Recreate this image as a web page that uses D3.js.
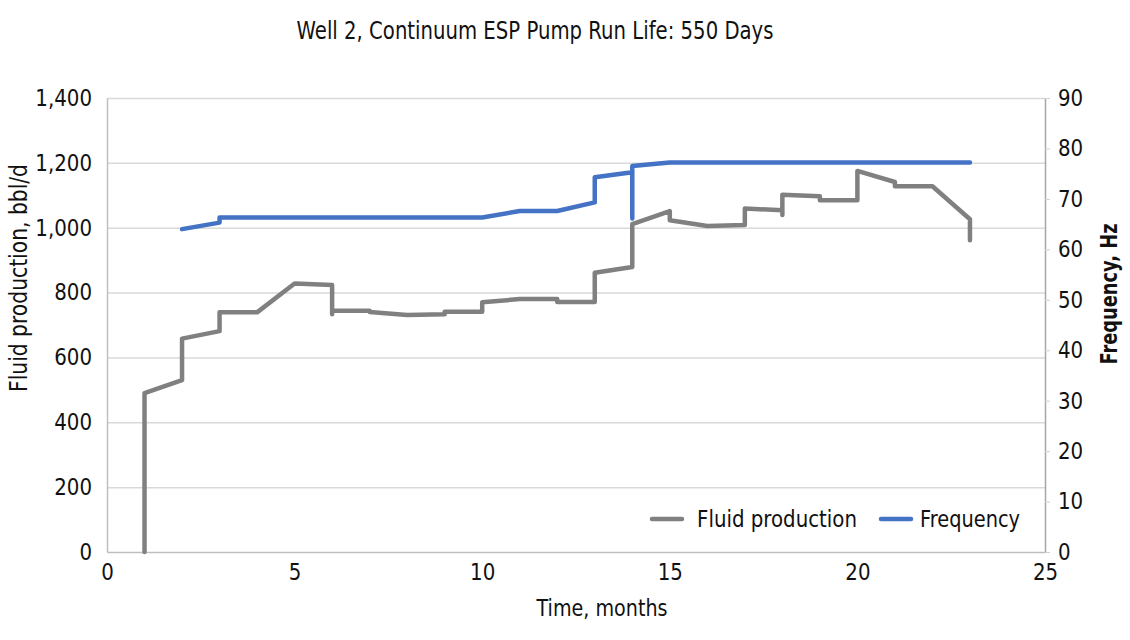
<!DOCTYPE html>
<html>
<head>
<meta charset="utf-8">
<script src="https://cdn.jsdelivr.net/npm/d3@7/dist/d3.min.js"></script>
<style>
  html, body { margin: 0; padding: 0; background: #fff; }
  svg { display: block; }
  text { font-family: "DejaVu Sans", "Roboto", sans-serif; fill: #111; }
</style>
</head>
<body>
<div id="chart"></div>
<script>
  // Dados (meses, bbl/d e Hz)
  const fluidMonths = [1, 1, 2, 2, 3, 3, 4, 5, 6, 6, 6, 7, 7, 8, 9, 9, 10, 10, 11, 12, 12, 13, 13, 14, 14, 15, 15, 16, 17, 17, 18, 18, 18, 19, 19, 20, 20, 21, 21, 22, 23, 23];
  const fluidValues = [0, 490, 530, 658, 681, 739, 739, 828, 823, 733, 744, 744, 740, 731, 733, 741, 741, 770, 780, 780, 771, 771, 861, 879, 1011, 1051, 1023, 1005, 1008, 1059, 1054, 1039, 1102, 1097, 1085, 1085, 1175, 1141, 1128, 1128, 1026, 961];
  const freqMonths = [2, 3, 3, 10, 11, 12, 13, 13, 14, 14, 14, 15, 23];
  const freqValues = [64, 65.3, 66.3, 66.3, 67.6, 67.6, 69.3, 74.3, 75.3, 66.1, 76.5, 77.2, 77.2];
  const xTicks = [0, 5, 10, 15, 20, 25];
  const leftTicks = [0, 200, 400, 600, 800, 1000, 1200, 1400];
  const rightTicks = [0, 10, 20, 30, 40, 50, 60, 70, 80, 90];

  const W = 1130, H = 640;
  const margin = { top: 98, right: 85, bottom: 88, left: 107 };
  const innerW = W - margin.left - margin.right;
  const innerH = H - margin.top - margin.bottom;

  const svg = d3.select('#chart').append('svg').attr('width', W).attr('height', H);
  const g = svg.append('g').attr('transform', `translate(${margin.left},${margin.top})`);

  const x = d3.scaleLinear().domain([0, 25]).range([0, innerW]);
  const yL = d3.scaleLinear().domain([0, 1400]).range([innerH, 0]);
  const yR = d3.scaleLinear().domain([0, 90]).range([innerH, 0]);

  const axColor = '#bfbfbf';
  const gridColor = '#d9d9d9';
  const fs = '23px';

  // fonte condensada "fake": estreita o texto já renderizado
  function condense(sel, k) {
    sel.each(function () {
      const w = this.getComputedTextLength();
      d3.select(this).attr('textLength', w * k).attr('lengthAdjust', 'spacingAndGlyphs');
    });
  }

  // grade horizontal
  g.append('g')
    .call(d3.axisLeft(yL).tickValues(leftTicks.slice(1)).tickSize(-innerW).tickFormat(''))
    .call(sel => {
      sel.select('.domain').remove();
      sel.selectAll('line').attr('stroke', gridColor).attr('stroke-width', 1.5);
    });

  // eixo X
  g.append('g')
    .attr('transform', `translate(0,${innerH})`)
    .call(d3.axisBottom(x).tickValues(xTicks).tickSize(0).tickPadding(12))
    .call(sel => {
      sel.select('.domain').attr('stroke', axColor).attr('stroke-width', 1.5);
      sel.selectAll('text').style('font-size', fs).attr('fill', '#111').call(condense, 0.86);
    });

  // eixo esquerdo
  g.append('g')
    .call(d3.axisLeft(yL).tickValues(leftTicks).tickSize(0).tickPadding(15).tickFormat(d3.format(',')))
    .call(sel => {
      sel.select('.domain').attr('stroke', axColor).attr('stroke-width', 1.5);
      sel.selectAll('text').style('font-size', fs).attr('fill', '#111').call(condense, 0.86);
    });

  // eixo direito
  g.append('g')
    .attr('transform', `translate(${innerW},0)`)
    .call(d3.axisRight(yR).tickValues(rightTicks).tickSize(5).tickSizeOuter(0).tickPadding(8))
    .call(sel => {
      sel.select('.domain').attr('stroke', '#a6a6a6').attr('stroke-width', 1.5);
      sel.selectAll('line').attr('stroke', '#d0d0d0');
      sel.selectAll('text').style('font-size', fs).attr('fill', '#111').call(condense, 0.86);
    });

  // séries
  const fluid = fluidMonths.map((m, i) => [m, fluidValues[i]]);
  const freq = freqMonths.map((m, i) => [m, freqValues[i]]);

  g.append('path')
    .datum(fluid)
    .attr('fill', 'none')
    .attr('stroke', '#808080')
    .attr('stroke-width', 4.5)
    .attr('stroke-linejoin', 'round')
    .attr('stroke-linecap', 'round')
    .attr('d', d3.line().x(d => x(d[0])).y(d => yL(d[1])));

  g.append('path')
    .datum(freq)
    .attr('fill', 'none')
    .attr('stroke', '#4472c4')
    .attr('stroke-width', 4.5)
    .attr('stroke-linejoin', 'round')
    .attr('stroke-linecap', 'round')
    .attr('d', d3.line().x(d => x(d[0])).y(d => yR(d[1])));

  // título
  svg.append('text')
    .attr('x', 535).attr('y', 39)
    .attr('text-anchor', 'middle')
    .attr('textLength', 477).attr('lengthAdjust', 'spacingAndGlyphs')
    .style('font-size', '24px')
    .text('Well 2, Continuum ESP Pump Run Life: 550 Days');

  // títulos dos eixos
  svg.append('text')
    .attr('x', 602).attr('y', 616)
    .attr('text-anchor', 'middle')
    .attr('textLength', 131).attr('lengthAdjust', 'spacingAndGlyphs')
    .style('font-size', fs)
    .text('Time, months');

  svg.append('text')
    .attr('transform', `translate(27,278) rotate(-90)`)
    .attr('text-anchor', 'middle')
    .attr('textLength', 228).attr('lengthAdjust', 'spacingAndGlyphs')
    .style('font-size', '24px')
    .text('Fluid production, bbl/d');

  svg.append('text')
    .attr('transform', `translate(1117,294) rotate(-90)`)
    .attr('text-anchor', 'middle')
    .attr('textLength', 141).attr('lengthAdjust', 'spacingAndGlyphs')
    .style('font-size', fs)
    .style('font-weight', 'bold')
    .text('Frequency, Hz');

  // legenda
  const legend = svg.append('g').attr('transform', 'translate(652,519)');
  const items = [
    { label: 'Fluid production', color: '#808080', x: 0, tx: 45, len: 160 },
    { label: 'Frequency', color: '#4472c4', x: 229, tx: 268, len: 100 }
  ];
  items.forEach(it => {
    legend.append('line')
      .attr('x1', it.x).attr('x2', it.x + 30)
      .attr('y1', 0).attr('y2', 0)
      .attr('stroke', it.color).attr('stroke-width', 4.5).attr('stroke-linecap', 'round');
    legend.append('text')
      .attr('x', it.tx).attr('y', 8)
      .attr('textLength', it.len).attr('lengthAdjust', 'spacingAndGlyphs')
      .style('font-size', fs)
      .text(it.label);
  });
</script>
</body>
</html>
